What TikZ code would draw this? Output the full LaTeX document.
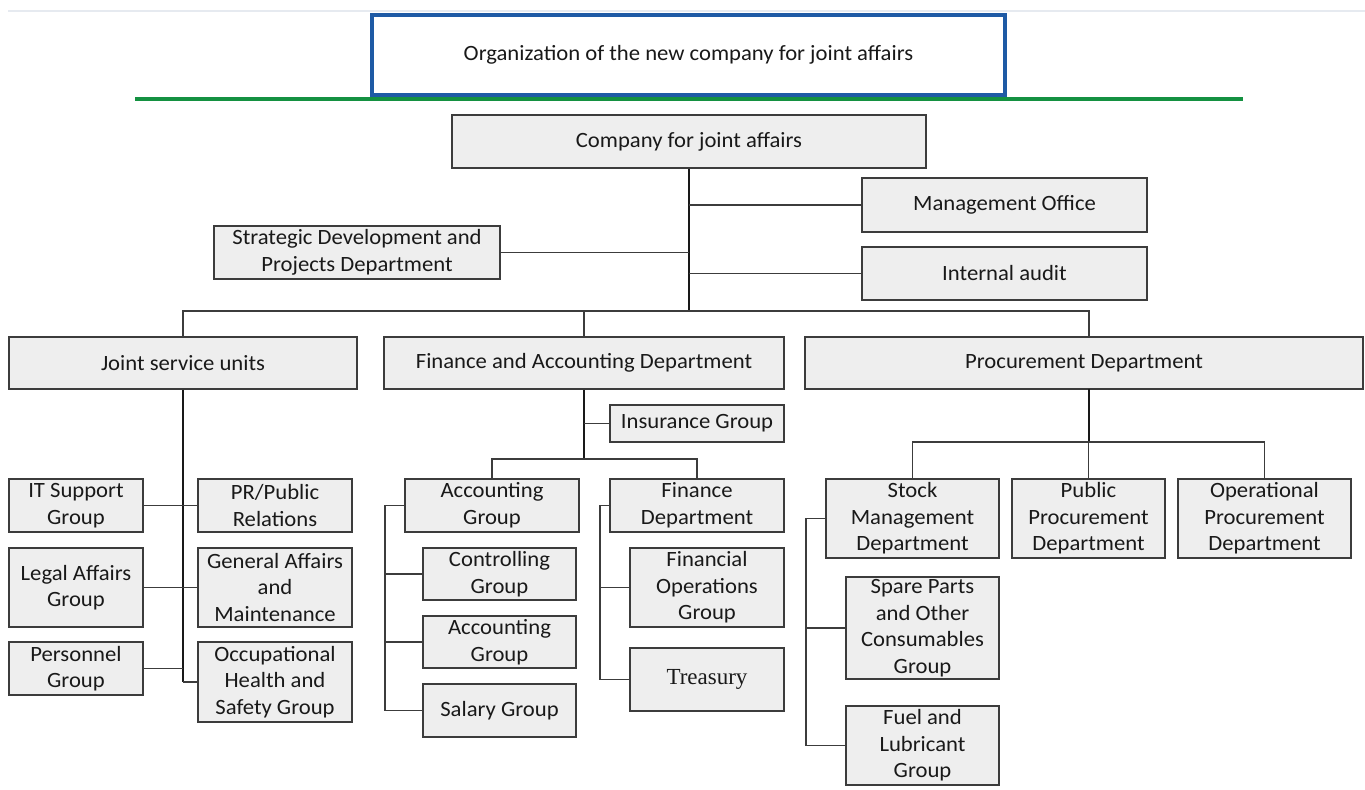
\documentclass[tikz,border=0pt]{standalone}
\usepackage{fontspec}
\setmainfont{Carlito}[FakeStretch=1.04]
\newfontfamily\timesfont{Liberation Serif}
\definecolor{boxfill}{RGB}{238,238,238}
\definecolor{boxline}{RGB}{60,60,60}
\definecolor{titleblue}{RGB}{30,90,165}
\definecolor{rulegreen}{RGB}{20,145,65}
\definecolor{topline}{RGB}{230,234,240}
\definecolor{txt}{RGB}{25,25,25}
\newcommand\orgbox[7][orgnode]{\node[#1, minimum width={(#5-#3)*0.5pt}, minimum height={(#6-#4)*0.5pt}] (#2) at ({(#3+#5)/2},{(#4+#6)/2}) {#7};}
\tikzset{
  orgnode/.style={draw=boxline, fill=boxfill, line width=0.85pt, inner sep=0pt, align=center, text=txt,
    font=\fontsize{10.9pt}{13.3pt}\selectfont},
  titlenode/.style={draw=titleblue, fill=white, line width=1.6pt, inner sep=0pt, align=center, text=txt,
    font=\fontsize{10.9pt}{13.3pt}\selectfont},
  conn/.style={draw=boxline, line width=0.9pt},
  trunk/.style={draw=black!90, line width=1.4pt},
}
\begin{document}
\begin{tikzpicture}[x=0.5pt,y=-0.5pt]
\useasboundingbox (0,0) rectangle (1365,790);
% faint top rule and green rule
\coordinate (tl1) at (8,11); \coordinate (tl2) at (1365,11);
\draw[topline, line width=1pt] (tl1) -- (tl2);
\coordinate (gr1) at (135,99); \coordinate (gr2) at (1243,99);
\draw[rulegreen, line width=1.6pt] (gr1) -- (gr2);
\orgbox[titlenode]{title}{372}{15}{1005}{95}{Organization of the new company for joint affairs}

% level 0/1
\orgbox{company}{452}{115}{926}{168}{Company for joint affairs}
\orgbox{mgmt}{862}{178}{1147}{232}{Management Office}
\orgbox{audit}{862}{247}{1147}{300}{Internal audit}
\orgbox{strat}{214}{226}{500}{279}{Strategic Development and\\Projects Department}

\orgbox{jsu}{9}{337}{357}{389}{Joint service units}
\orgbox{fin}{384}{337}{784}{389}{Finance and Accounting Department}
\orgbox{proc}{805}{337}{1363}{389}{Procurement Department}

% joint service units
\orgbox{it}{9}{479}{143}{532}{IT Support\\Group}
\orgbox{legal}{9}{548}{143}{627}{Legal Affairs\\Group}
\orgbox{pers}{9}{642}{143}{695}{Personnel\\Group}
\orgbox{pr}{198}{479}{352}{532}{PR/Public\\Relations}
\orgbox{gen}{198}{548}{352}{627}{General Affairs\\and\\Maintenance}
\orgbox{ohs}{198}{642}{352}{722}{Occupational\\Health and\\Safety Group}

% finance
\orgbox{ins}{610}{405}{784}{442}{Insurance Group}
\orgbox{acc}{405}{479}{579}{532}{Accounting\\Group}
\orgbox{findep}{610}{479}{784}{532}{Finance\\Department}
\orgbox{ctrl}{423}{548}{576}{600}{Controlling\\Group}
\orgbox{acc2}{423}{616}{576}{668}{Accounting\\Group}
\orgbox{sal}{423}{684}{576}{737}{Salary Group}
\orgbox{fop}{630}{548}{784}{627}{Financial\\Operations\\Group}
\orgbox{treas}{630}{648}{784}{711}{{\timesfont\fontsize{11.5pt}{13pt}\selectfont Treasury}}

% procurement
\orgbox{stock}{826}{479}{999}{558}{Stock\\Management\\Department}
\orgbox{pub}{1012}{479}{1165}{558}{Public\\Procurement\\Department}
\orgbox{oper}{1178}{479}{1351}{558}{Operational\\Procurement\\Department}
\orgbox{spare}{846}{577}{999}{679}{Spare Parts\\and Other\\Consumables\\Group}
\orgbox{fuel}{846}{706}{999}{785}{Fuel and\\Lubricant\\Group}

% ---- connectors ----
\coordinate (busY) at (0,311);
\draw[trunk] (company.south) -- (company.south |- busY);
\draw[conn] (company.south |- mgmt.west) -- (mgmt.west);
\draw[conn] (company.south |- audit.west) -- (audit.west);
\draw[conn] (strat.east) -- (strat.east -| company.south);
\coordinate (procTop) at (1089,337);
\coordinate (procBottom) at (1089,389);
\draw[conn] (jsu.north) -- (jsu.north |- busY) -- (procTop |- busY) -- (procTop);
\draw[conn] (fin.north |- busY) -- (fin.north);

% joint service units
\draw[trunk] (jsu.south) -- (jsu.south |- ohs.west);
\draw[conn] (jsu.south |- ohs.west) -- (ohs.west);
\draw[conn] (it.east) -- (pr.west);
\draw[conn] (legal.east) -- (gen.west);
\draw[conn] (pers.east) -- (pers.east -| jsu.south);

% finance
\coordinate (finBus) at (0,459);
\draw[trunk] (fin.south) -- (fin.south |- finBus);
\draw[conn] (fin.south |- ins.west) -- (ins.west);
\draw[conn] (acc.north) -- (acc.north |- finBus) -- (findep.north |- finBus) -- (findep.north);
\coordinate (accX) at (385,0);
\draw[conn] (acc.west) -- (accX |- acc.west) -- (accX |- sal.west) -- (sal.west);
\draw[conn] (accX |- ctrl.west) -- (ctrl.west);
\draw[conn] (accX |- acc2.west) -- (acc2.west);
\coordinate (fdX) at (600,0);
\draw[conn] (findep.west) -- (fdX |- findep.west) -- (fdX |- treas.west) -- (treas.west);
\draw[conn] (fdX |- fop.west) -- (fop.west);

% procurement
\coordinate (procBus) at (0,442);
\draw[trunk] (procBottom) -- (procBottom |- procBus);
\draw[conn] (stock.north) -- (stock.north |- procBus) -- (oper.north |- procBus) -- (oper.north);
\draw[conn] (pub.north |- procBus) -- (pub.north);
\coordinate (stX) at (806,0);
\draw[conn] (stock.west) -- (stX |- stock.west) -- (stX |- fuel.west) -- (fuel.west);
\draw[conn] (stX |- spare.west) -- (spare.west);
\end{tikzpicture}
\end{document}
